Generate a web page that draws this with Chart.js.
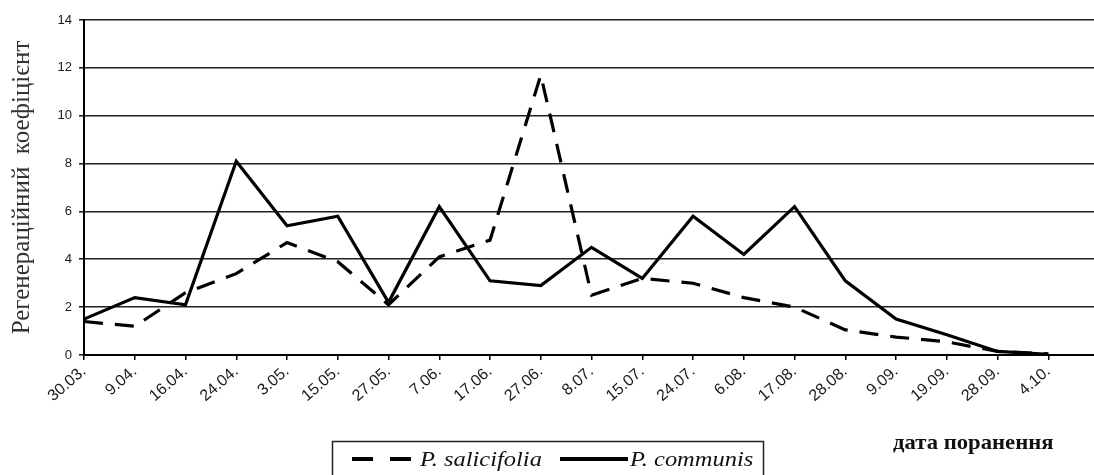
<!DOCTYPE html>
<html>
<head>
<meta charset="utf-8">
<script src="https://cdn.jsdelivr.net/npm/chart.js@4/dist/chart.umd.min.js"></script>
<style>
  html, body { margin: 0; padding: 0; background: #fff; overflow: hidden; }
  #wrap { width: 1094px; height: 475px; }
</style>
</head>
<body>
<div id="wrap"><canvas id="c" width="1094" height="475"></canvas></div>
<script>
// Wounding dates (categories)
const dates = ['30.03.', '9.04.', '16.04.', '24.04.', '3.05.', '15.05.', '27.05.', '7.06.', '17.06.', '27.06.',
               '8.07.', '15.07.', '24.07.', '6.08.', '17.08.', '28.08.', '9.09.', '19.09.', '28.09.', '4.10.'];

// Regeneration coefficient per date
const salicifolia = [1.4, 1.2, 2.6, 3.4, 4.7, 3.9, 2.1, 4.1, 4.8, 11.7,
                     2.5, 3.2, 3.0, 2.4, 2.0, 1.05, 0.75, 0.55, 0.15, 0.05];
const communis    = [1.5, 2.4, 2.1, 8.1, 5.4, 5.8, 2.2, 6.2, 3.1, 2.9,
                     4.5, 3.2, 5.8, 4.2, 6.2, 3.1, 1.5, 0.85, 0.15, 0.03];

const yTicks = [0, 2, 4, 6, 8, 10, 12, 14];
const seriesNames = ['P. salicifolia', 'P. communis'];
const yTitle = 'Регенераційний  коефіцієнт';
const xTitle = 'дата поранення';

const toPoints = arr => arr.map((v, i) => ({ x: i, y: v }));

// Draws text slightly widened horizontally
function wideText(ctx, text, x, y, sx) {
  ctx.save();
  ctx.translate(x, y);
  ctx.scale(sx, 1);
  ctx.fillText(text, 0, 0);
  ctx.restore();
}

// Bottom legend in a framed box, plus the x-axis caption on the right
const extras = {
  id: 'extras',
  afterDraw(chart) {
    const ctx = chart.ctx;
    ctx.save();
    ctx.textBaseline = 'alphabetic';
    ctx.textAlign = 'left';

    // x-axis caption
    ctx.fillStyle = '#111';
    ctx.font = 'bold 21px "Liberation Serif"';
    wideText(ctx, xTitle, 893, 449, 1.08);

    // legend frame
    ctx.strokeStyle = '#222';
    ctx.lineWidth = 1.5;
    ctx.strokeRect(332.5, 441.5, 431, 50);

    const items = [
      { ds: chart.data.datasets[0], x0: 352, x1: 411, tx: 420, dash: [21, 17] },
      { ds: chart.data.datasets[1], x0: 560, x1: 628, tx: 630, dash: [] }
    ];
    const ly = 459;
    items.forEach(it => {
      ctx.beginPath();
      ctx.strokeStyle = it.ds.borderColor;
      ctx.lineWidth = it.ds.borderWidth + 1;
      ctx.setLineDash(it.dash);
      ctx.moveTo(it.x0, ly);
      ctx.lineTo(it.x1, ly);
      ctx.stroke();
      ctx.setLineDash([]);
      ctx.fillStyle = '#111';
      ctx.font = 'italic 21px "Liberation Serif"';
      wideText(ctx, it.ds.label, it.tx, 466, 1.165);
    });
    ctx.restore();
  }
};

new Chart(document.getElementById('c'), {
  type: 'line',
  data: {
    datasets: [
      {
        label: seriesNames[0],
        data: toPoints(salicifolia),
        borderColor: '#000',
        borderWidth: 3.2,
        borderDash: [19, 12],
        pointRadius: 0,
        tension: 0,
        fill: false,
        clip: false
      },
      {
        label: seriesNames[1],
        data: toPoints(communis),
        borderColor: '#000',
        borderWidth: 3.2,
        pointRadius: 0,
        tension: 0,
        fill: false,
        clip: false
      }
    ]
  },
  options: {
    responsive: false,
    animation: false,
    devicePixelRatio: 1,
    layout: { padding: { top: 20, right: 0, bottom: 0, left: 0 } },
    plugins: {
      legend: { display: false },
      tooltip: { enabled: false },
      title: { display: false }
    },
    scales: {
      x: {
        type: 'linear',
        min: 0,
        max: 19.9,
        afterBuildTicks: s => { s.ticks = dates.map((d, i) => ({ value: i })); },
        afterFit: s => { s.height = 120; },
        ticks: {
          autoSkip: false,
          maxRotation: 41,
          minRotation: 41,
          padding: 2,
          color: '#1a1a1a',
          font: { family: '"Liberation Sans", Arial, sans-serif', size: 16 },
          callback: v => dates[v]
        },
        grid: { drawOnChartArea: false, drawTicks: true, tickLength: 5, color: '#000', lineWidth: 1.5 },
        border: { color: '#000', width: 2 }
      },
      y: {
        min: 0,
        max: 14,
        afterBuildTicks: s => { s.ticks = yTicks.map(v => ({ value: v })); },
        afterFit: s => { s.width = 84; },
        ticks: {
          padding: 7,
          color: '#1a1a1a',
          font: { family: '"Liberation Sans", Arial, sans-serif', size: 13 }
        },
        grid: { color: '#222', lineWidth: 1.6, tickLength: 5 },
        border: { color: '#000', width: 2 },
        title: {
          display: true,
          text: yTitle,
          color: '#333',
          font: { family: '"Liberation Serif", serif', size: 25 },
          padding: { top: 7, bottom: 0 }
        }
      }
    }
  },
  plugins: [extras]
});
</script>
</body>
</html>
